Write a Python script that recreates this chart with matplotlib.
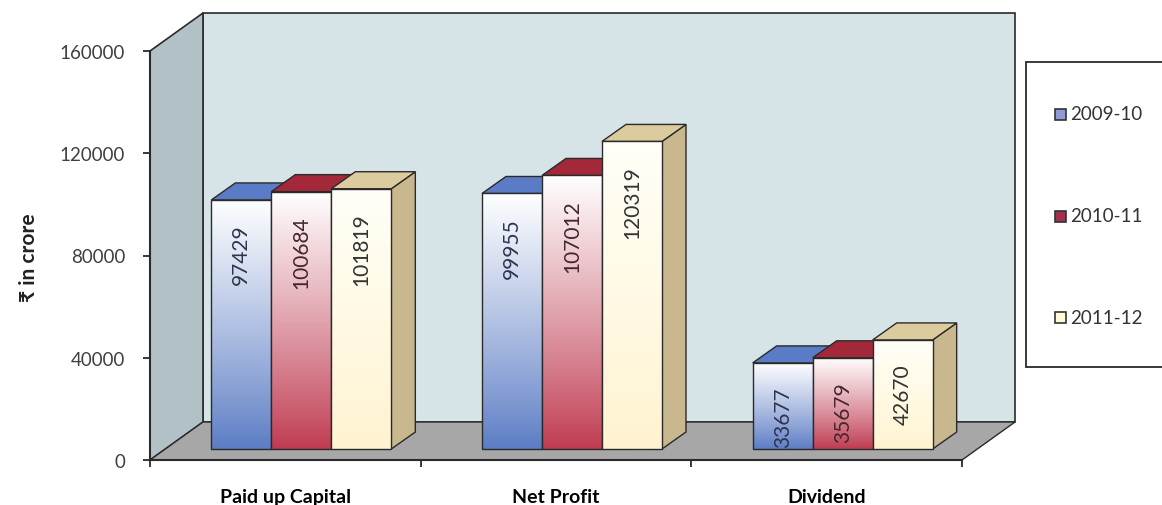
import numpy as np
import matplotlib.pyplot as plt
from matplotlib.patches import Polygon, Rectangle
from matplotlib.colors import to_rgb

plt.rcParams['font.family'] = ['Lato', 'DejaVu Sans']

categories = ["Paid up Capital", "Net Profit", "Dividend"]
years = ["2009-10", "2010-11", "2011-12"]
values_0910 = [97429, 99955, 33677]
values_1011 = [100684, 107012, 35679]
values_1112 = [101819, 120319, 42670]
yticks = [0, 40000, 80000, 120000, 160000]

series_values = [values_0910, values_1011, values_1112]

# face colours per series: front bottom, front top, top face, side face, legend swatch, label ink
styles = [
    dict(bottom="#5b7cc4", top="#ffffff", lid="#5a7bc6", side="#4a65a8", key="#8f9bd8", ink="#2e3550"),
    dict(bottom="#bf3a50", top="#ffffff", lid="#a3283a", side="#8a2030", key="#a3304c", ink="#46262e"),
    dict(bottom="#fff3cf", top="#fffff8", lid="#dccb9f", side="#c9b78d", key="#fffbd8", ink="#333333"),
]

W, H = 1162, 506
fig = plt.figure(figsize=(W / 100, H / 100), dpi=100)
ax = fig.add_axes([150 / W, 45 / H, 812 / W, 409 / H])
ymax = 160000
ax.patch.set_visible(False)

# data units per pixel
ux = 3 / 812
uy = ymax / 409

# box walls
wdx, wdy = 53 * ux, 38 * uy
edge = "#2a2a2a"
back = Polygon([(-0.5 + wdx, wdy), (2.5 + wdx, wdy), (2.5 + wdx, ymax + wdy), (-0.5 + wdx, ymax + wdy)],
               closed=True, facecolor="#d6e4e8", edgecolor=edge, lw=1.2, zorder=0.2, clip_on=False)
left = Polygon([(-0.5, 0), (-0.5 + wdx, wdy), (-0.5 + wdx, ymax + wdy), (-0.5, ymax)],
               closed=True, facecolor="#b2c1c6", edgecolor=edge, lw=1.2, zorder=0.3, clip_on=False)
floor = Polygon([(-0.5, 0), (2.5, 0), (2.5 + wdx, wdy), (-0.5 + wdx, wdy)],
                closed=True, facecolor="#a7a7a7", edgecolor=edge, lw=1.0, zorder=0.4, clip_on=False)
for p in (back, left, floor):
    ax.add_patch(p)

# bar placement inside the box
bw = 60 * ux
off_x, off_y = 16 * ux, 11 * uy
bdx, bdy = 24 * ux, 17 * uy
x = np.arange(len(categories))

z = 1.0
for ci in range(len(categories)):
    for si, vals in enumerate(series_values):
        st = styles[si]
        v = vals[ci]
        x0 = x[ci] - 1.5 * bw + off_x + si * bw
        x1 = x0 + bw
        b0 = off_y
        t = b0 + v

        side = Polygon([(x1, b0), (x1 + bdx, b0 + bdy), (x1 + bdx, t + bdy), (x1, t)], closed=True,
                       facecolor=st["side"], edgecolor=edge, lw=1.0, zorder=z, clip_on=False)
        lid = Polygon([(x0, t), (x1, t), (x1 + bdx, t + bdy), (x0 + bdx, t + bdy)], closed=True,
                      facecolor=st["lid"], edgecolor=edge, lw=1.0, zorder=z, clip_on=False)
        ax.add_patch(side)
        ax.add_patch(lid)

        frac = np.linspace(0, 1, 256) ** 0.9
        c0, c1 = np.array(to_rgb(st["bottom"])), np.array(to_rgb(st["top"]))
        grad = (c0[None, :] * (1 - frac[:, None]) + c1[None, :] * frac[:, None])[:, None, :]
        bar = ax.bar(x0, v, width=bw, bottom=b0, align="edge", facecolor="none",
                     edgecolor=edge, lw=1.0, zorder=z + 0.2)[0]
        im = ax.imshow(grad, extent=[x0, x1, b0, t], origin="lower", aspect="auto",
                       zorder=z + 0.1, interpolation="bilinear")
        im.set_clip_path(bar)

        ax.annotate(str(v), xy=(x0 + bw / 2, t), xytext=(0, -17), textcoords="offset points",
                    rotation=90, ha="center", va="top", fontsize=15, color=st["ink"], zorder=z + 0.3)
        z += 1

ax.set_xlim(-0.5, 2.5)
ax.set_ylim(0, ymax)

for s in ("top", "right"):
    ax.spines[s].set_visible(False)
for s in ("left", "bottom"):
    ax.spines[s].set_color(edge)
    ax.spines[s].set_linewidth(1.5)
    ax.spines[s].set_zorder(50)

ax.set_yticks(yticks)
ax.set_yticklabels([str(t) for t in yticks])
ax.tick_params(axis="y", direction="out", length=5, width=1.3, color=edge,
               labelcolor="#404040", labelsize=13.5, pad=13)

ax.set_xticks([-0.5, 0.5, 1.5, 2.5])
ax.set_xticklabels([])
ax.set_xticks(x, minor=True)
ax.set_xticklabels(categories, minor=True, fontweight="bold", fontsize=14)
ax.tick_params(axis="x", which="major", direction="out", length=5, width=1.3, color=edge)
ax.tick_params(axis="x", which="minor", length=0, pad=20)

fig.text(29 / W, 1 - 258 / H, "₹ in crore", rotation=90, ha="center", va="center",
         fontsize=15, fontweight="bold", color="#222222")

# legend panel
fig.patches.append(Rectangle((1026 / W, 1 - 368 / H), 200 / W, 305 / H, transform=fig.transFigure,
                             facecolor="white", edgecolor=edge, lw=1.3, figure=fig))
for i, (yr, st) in enumerate(zip(years, styles)):
    yc = [115, 217, 318][i]
    fig.patches.append(Rectangle((1055 / W, 1 - (yc + 5.5) / H), 11 / W, 11 / H, transform=fig.transFigure,
                                 facecolor=st["key"], edgecolor="#333333", lw=1.2, figure=fig))
    fig.text(1070 / W, 1 - yc / H, yr, ha="left", va="center", fontsize=13.5, color="#333333")

fig.savefig("out.png", dpi=100)
